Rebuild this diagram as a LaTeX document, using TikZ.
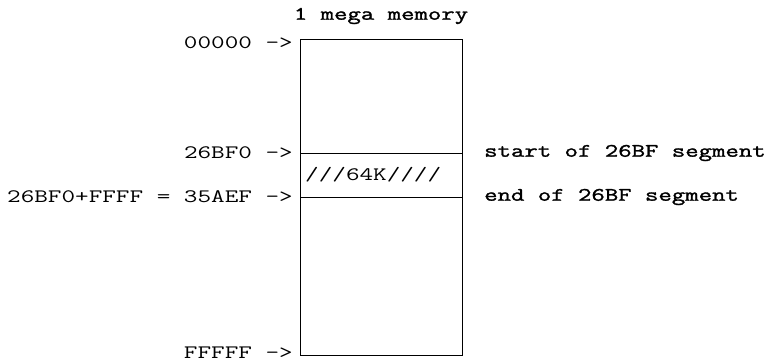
\documentclass[tikz,border=0pt]{standalone}
\usepackage{fontspec}
\newfontfamily\tw[FakeStretch=1.39]{Latin Modern Mono}
\newfontfamily\twb[FakeStretch=1.37,FakeBold=1.5]{Latin Modern Mono}
\begin{document}
\begin{tikzpicture}[x=1pt,y=-1pt,
  lbl/.style={font=\tw\fontsize{19}{19}\selectfont, inner sep=0pt},
  lblb/.style={lbl, font=\twb\fontsize{19}{19}\selectfont},
  mem/.style={line width=1pt}]
\useasboundingbox (0,0) rectangle (770,363);
\coordinate (tl) at (300,40);
\coordinate (br) at (462,355);
\draw[mem] (tl) rectangle (br);
\coordinate (s1l) at (300,153);
\coordinate (s1r) at (462,153);
\coordinate (s2l) at (300,197);
\coordinate (s2r) at (462,197);
\draw[line width=0.6pt] (s1l) -- (s1r);
\draw[line width=0.8pt] (s2l) -- (s2r);
\node[lblb, anchor=center] (title) at (381,16) {1 mega memory};
\node[lbl, anchor=east] (a0) at (293,43) {00000 ->};
\node[lbl, anchor=east] (a1) at (293,153) {26BF0 ->};
\node[lbl, anchor=east] (a2) at (293,197) {26BF0+FFFF = 35AEF ->};
\node[lbl, anchor=east] (a3) at (293,353) {FFFFF ->};
\node[lbl, anchor=west] (k) at (305,175) {///64K////};
\node[lblb, anchor=west] (st) at (484,153) {start of 26BF segment};
\node[lblb, anchor=west] (en) at (484,197) {end of 26BF segment};
\end{tikzpicture}
\end{document}
